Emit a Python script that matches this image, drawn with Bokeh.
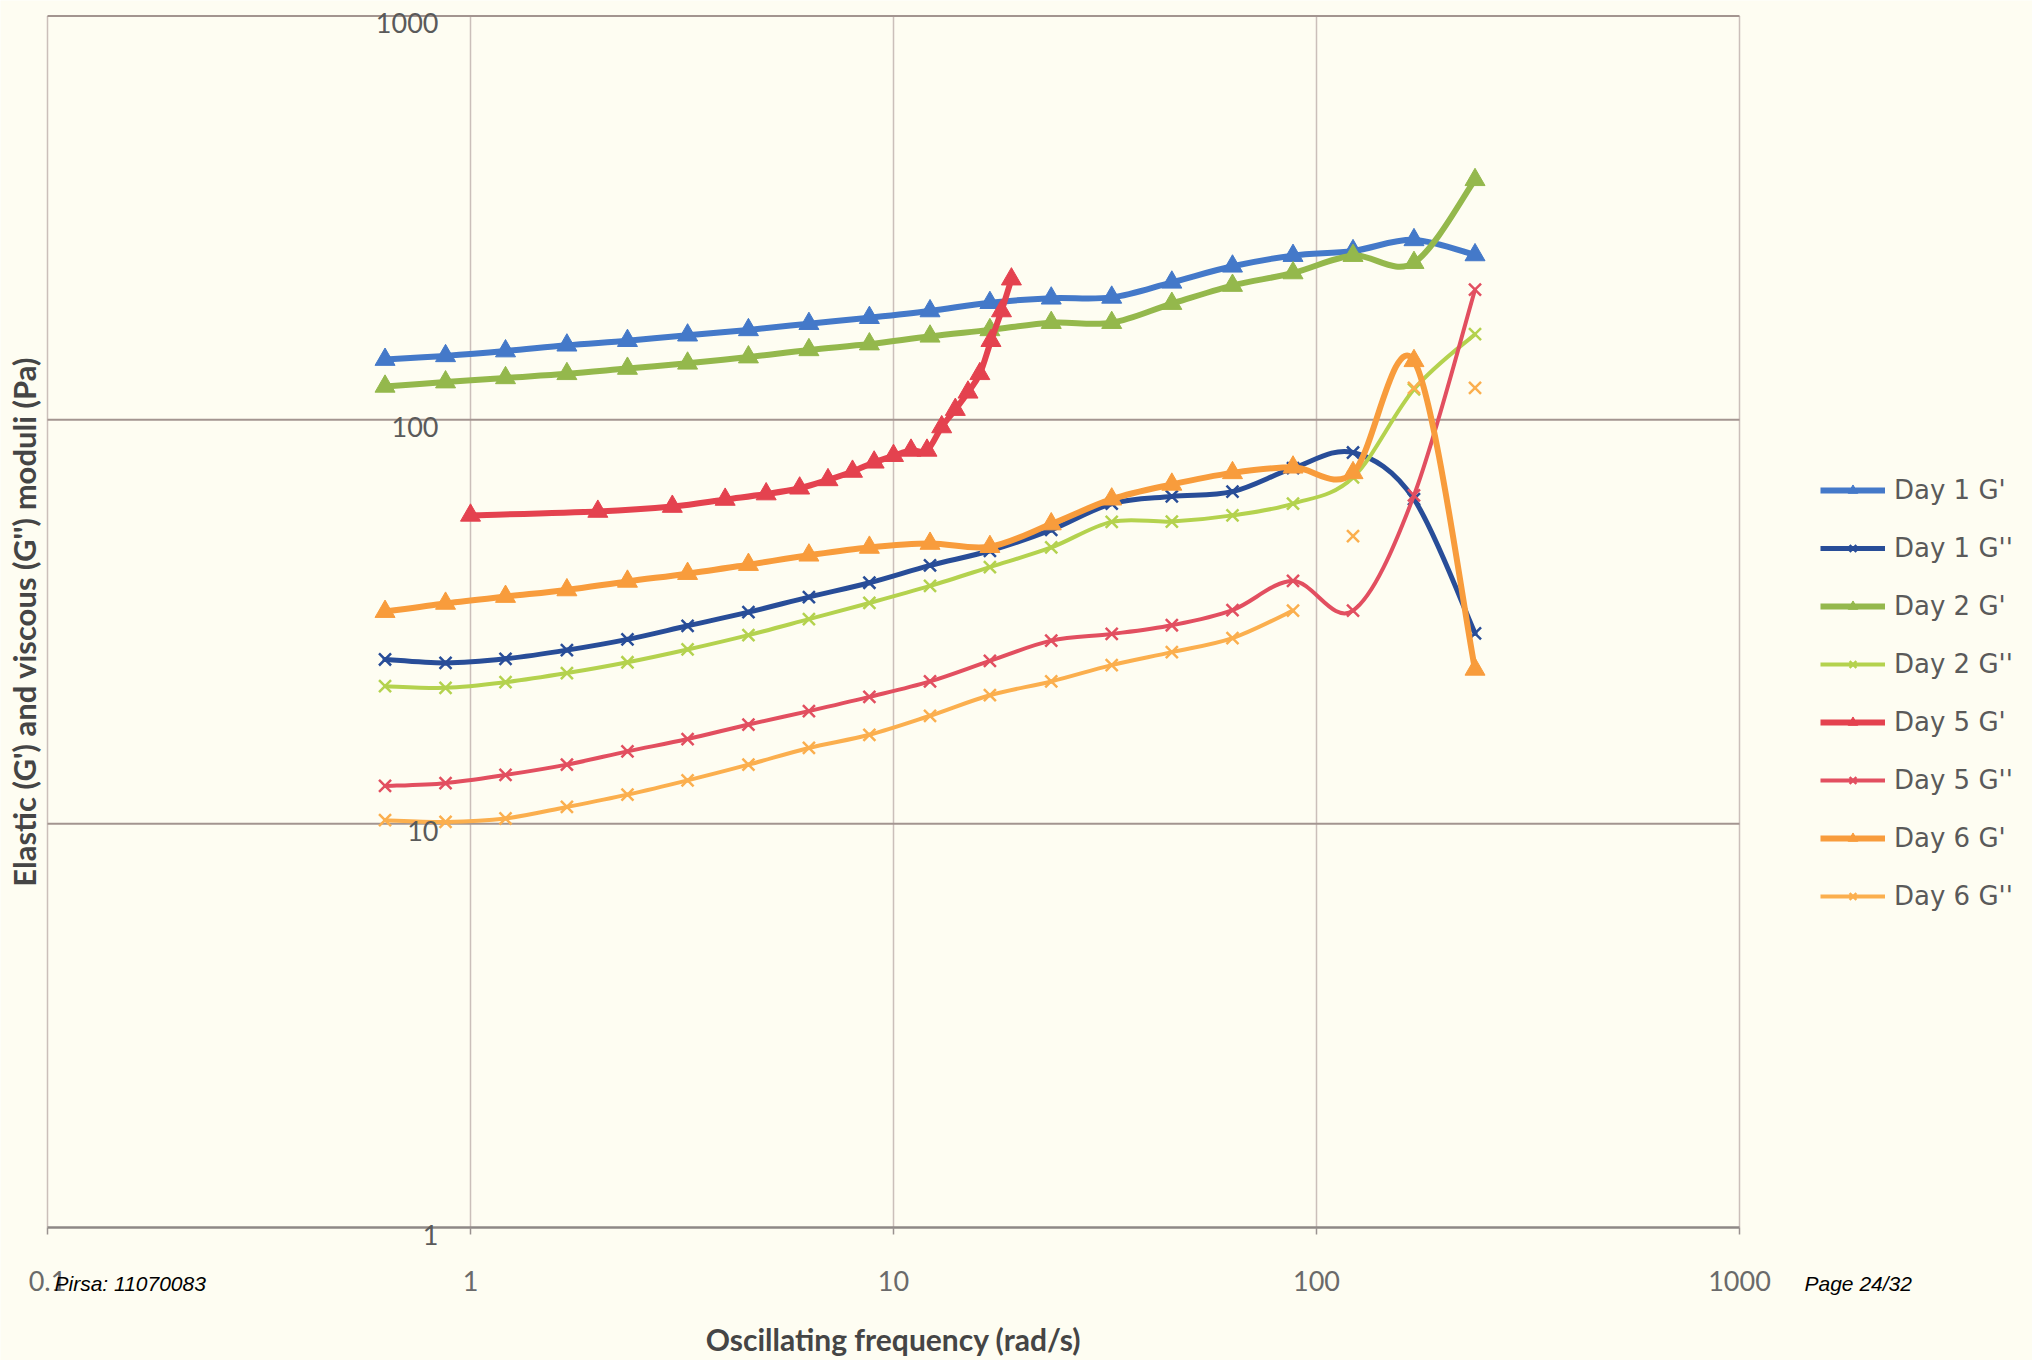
import numpy as np
from bokeh.plotting import figure
from bokeh.models import ColumnDataSource, Legend, LegendItem, Label, Range1d
from bokeh.embed import file_html
from bokeh.resources import INLINE

# ---------------------------------------------------------------- data
# angular frequency sweep (rad/s) shared by days 1, 2 and 6
freq = [0.628, 0.873, 1.21, 1.69, 2.35, 3.26, 4.54, 6.31, 8.77, 12.2,
        16.9, 23.6, 32.8, 45.5, 63.3, 88.0, 122, 170, 237]

# day 5 storage modulus was measured on a linear sweep 1..19 rad/s
freq_day5_gp = [1, 2, 3, 4, 5, 6, 7, 8, 9, 10, 11, 12, 13, 14, 15, 16, 17, 18, 19]

day1_gp = [141, 144, 148, 153, 157, 162, 167, 173, 179, 186, 195, 200, 201,
           219, 240, 255, 262, 279, 256]
day1_gpp = [25.5, 25.0, 25.6, 26.9, 28.6, 30.9, 33.4, 36.4, 39.5, 43.6, 47.4,
            53.4, 62.0, 64.6, 66.4, 75.9, 83.0, 63.6, 29.6]
day2_gp = [121, 124, 127, 130, 134, 138, 143, 149, 154, 161, 167, 174, 174,
           194, 215, 231, 255, 245, 393]
day2_gpp = [21.9, 21.7, 22.4, 23.6, 25.1, 27.0, 29.3, 32.1, 35.2, 38.8, 43.2,
            48.3, 55.9, 56.0, 58.0, 62.0, 72.0, 119, 163]
day5_gp = [58.0, 59.3, 61.0, 63.5, 65.5, 67.7, 71.0, 74.5, 78.5, 81.5, 84.0,
           84.0, 96.0, 106, 117, 130, 157, 186, 223]
day5_gpp = [12.4, 12.6, 13.2, 14.0, 15.1, 16.2, 17.6, 19.0, 20.6, 22.5, 25.3,
            28.4, 29.5, 31.0, 33.8, 39.9, 33.7, 65.0, 210]
day6_gp = [33.5, 35.1, 36.5, 37.9, 39.8, 41.6, 43.8, 46.2, 48.3, 49.4, 48.5,
           55.2, 63.6, 69.2, 73.9, 76.3, 73.9, 140, 24.1]
day6_gpp = [10.2, 10.1, 10.3, 11.0, 11.8, 12.8, 14.0, 15.4, 16.6, 18.5, 20.8,
            22.5, 24.7, 26.6, 28.8, 33.7, 51.5, 120, 120]
# the day 6 G'' curve is only joined up to this many points; the rest are bare markers
day6_gpp_joined = 16

x_ticks = [0.1, 1, 10, 100, 1000]
x_tick_labels = ["0.1", "1", "10", "100", "1000"]
y_ticks = [1, 10, 100, 1000]
y_tick_labels = ["1", "10", "100", "1000"]

x_title = "Oscillating frequency (rad/s)"
y_title = "Elastic (G') and viscous (G'') moduli (Pa)"

X_LO, X_HI = 0.1, 1000
Y_LO, Y_HI = 1, 1000

# ---------------------------------------------------------------- page geometry
W, H = 2032, 1360
AREA_L, AREA_R, AREA_T, AREA_B = 47, 1739, 15.5, 1227   # plot area in pixels
px_dec_x = (AREA_R - AREA_L) / np.log10(X_HI / X_LO)
px_dec_y = (AREA_B - AREA_T) / np.log10(Y_HI / Y_LO)
# the drawing frame covers the whole page so that titles, legend and notes
# around the plot area can be placed with the same log scales
view_x = (X_LO * 10 ** (-AREA_L / px_dec_x), X_HI * 10 ** ((W - AREA_R) / px_dec_x))
view_y = (Y_LO * 10 ** (-(H - AREA_B) / px_dec_y), Y_HI * 10 ** (AREA_T / px_dec_y))

# ---------------------------------------------------------------- style
BG = "#FEFDF2"
series = [
    # label, x, y, colour, marker, line width, joined count
    ("Day 1 G'", freq, day1_gp, "#4479C9", "triangle", 6.0, None),
    ("Day 1 G''", freq, day1_gpp, "#284D98", "x", 5.0, None),
    ("Day 2 G'", freq, day2_gp, "#94B84C", "triangle", 6.0, None),
    ("Day 2 G''", freq, day2_gpp, "#B4D24E", "x", 4.0, None),
    ("Day 5 G'", freq_day5_gp, day5_gp, "#E4424F", "triangle", 6.0, None),
    ("Day 5 G''", freq, day5_gpp, "#E24F60", "x", 4.0, None),
    ("Day 6 G'", freq, day6_gp, "#F89C3C", "triangle", 6.0, None),
    ("Day 6 G''", freq, day6_gpp, "#FBAF4E", "x", 4.0, day6_gpp_joined),
]


def smooth_segments(xs, ys):
    """Cubic Bezier pieces of a smoothed curve, built in log-log space."""
    u = np.log10(np.asarray(xs, dtype=float))
    v = np.log10(np.asarray(ys, dtype=float))
    n = len(u)
    out = {k: [] for k in ("x0", "y0", "x1", "y1", "cx0", "cy0", "cx1", "cy1")}
    for i in range(n - 1):
        a = i - 1 if i > 0 else i
        d = i + 2 if i + 2 < n else i + 1
        c0u = u[i] + (u[i + 1] - u[a]) / 6.0
        c0v = v[i] + (v[i + 1] - v[a]) / 6.0
        c1u = u[i + 1] - (u[d] - u[i]) / 6.0
        c1v = v[i + 1] - (v[d] - v[i]) / 6.0
        out["x0"].append(10 ** u[i]); out["y0"].append(10 ** v[i])
        out["x1"].append(10 ** u[i + 1]); out["y1"].append(10 ** v[i + 1])
        out["cx0"].append(10 ** c0u); out["cy0"].append(10 ** c0v)
        out["cx1"].append(10 ** c1u); out["cy1"].append(10 ** c1v)
    return out


p = figure(width=W, height=H, x_axis_type="log", y_axis_type="log",
           x_range=Range1d(*view_x), y_range=Range1d(*view_y),
           x_axis_location=None, y_axis_location=None,
           output_backend="svg", toolbar_location=None,
           min_border_left=0, min_border_right=0, min_border_top=0,
           min_border_bottom=0,
           background_fill_color=BG, border_fill_color=BG, outline_line_color=None)
p.grid.visible = False

# ---------------------------------------------------------------- axes & grid
# vertical grid lines at the frequency decades
p.segment(x0=x_ticks, x1=x_ticks, y0=[Y_LO] * len(x_ticks), y1=[Y_HI] * len(x_ticks),
          line_color="#CBBFBA", line_width=1.5)
# horizontal grid lines at the modulus decades (the lowest one is the axis line)
p.segment(x0=[X_LO] * (len(y_ticks) - 1), x1=[X_HI] * (len(y_ticks) - 1),
          y0=y_ticks[1:], y1=y_ticks[1:], line_color="#A39590", line_width=2)
p.segment(x0=[X_LO], x1=[X_HI], y0=[Y_LO], y1=[Y_LO],
          line_color="#8E8886", line_width=2.5)
# short tick marks below the frequency axis
tick_len = 7
p.segment(x0=x_ticks, x1=x_ticks, y0=[Y_LO] * len(x_ticks),
          y1=[Y_LO * 10 ** (-tick_len / px_dec_y)] * len(x_ticks),
          line_color="#9A9290", line_width=1.5)

for v, t in zip(x_ticks, x_tick_labels):
    p.add_layout(Label(x=v, y=Y_LO, y_offset=-53, text=t,
                       text_align="center", text_baseline="middle",
                       text_font="Lato", text_font_size="27px",
                       text_color="#6A6A6A"))

# value labels of the modulus axis sit just left of the 1 rad/s line
for v, t in zip(y_ticks, y_tick_labels):
    p.add_layout(Label(x=1, y=v, x_offset=-32, y_offset=-7, text=t,
                       text_align="right", text_baseline="middle",
                       text_font="Lato", text_font_size="27px",
                       text_color="#5A5A5A"))

p.add_layout(Label(x=X_LO, y=(Y_LO * Y_HI) ** 0.5, x_offset=-24, text=y_title,
                   angle=np.pi / 2, text_align="center", text_baseline="middle",
                   text_font="Lato", text_font_style="bold", text_font_size="31px",
                   text_color="#454545"))

p.add_layout(Label(x=(X_LO * X_HI) ** 0.5, y=Y_LO, y_offset=-111, text=x_title,
                   text_align="center", text_baseline="middle",
                   text_font="Lato", text_font_style="bold", text_font_size="30px",
                   text_color="#454545"))

# ---------------------------------------------------------------- series
items = []
for label, xs, ys, color, marker, lw, joined in series:
    n_join = len(xs) if joined is None else joined
    seg = smooth_segments(xs[:n_join], ys[:n_join])
    p.bezier(x0="x0", y0="y0", x1="x1", y1="y1", cx0="cx0", cy0="cy0",
             cx1="cx1", cy1="cy1", source=ColumnDataSource(seg),
             line_color=color, line_width=lw, line_cap="round")
    src = ColumnDataSource(dict(x=xs, y=ys))
    if marker == "triangle":
        mk = p.scatter("x", "y", source=src, marker="triangle", size=20,
                       fill_color=color, line_color=color, line_width=1)
    else:
        mk = p.scatter("x", "y", source=src, marker="x", size=17,
                       line_color=color, line_width=2.5)
    # line sample for the legend entry (draws nothing on the plot itself)
    proxy = p.line(x=[np.nan], y=[np.nan], line_color=color, line_width=lw)
    items.append(LegendItem(label=label, renderers=[proxy, mk]))

legend = Legend(items=items, location=(1820, 449), orientation="vertical",
                glyph_width=65, glyph_height=24, label_height=24, spacing=28,
                label_standoff=9, padding=10, margin=0,
                border_line_color=None, background_fill_alpha=0,
                label_text_font="DejaVu Sans", label_text_font_size="26px",
                label_text_color="#5A5A5A")
p.add_layout(legend)

# ---------------------------------------------------------------- footer
p.add_layout(Label(x=X_LO, y=Y_LO, x_offset=7, y_offset=-56, text="Pirsa: 11070083",
                   text_align="left", text_baseline="middle",
                   text_font="Liberation Sans", text_font_style="italic",
                   text_font_size="21px", text_color="#000000"))
p.add_layout(Label(x=X_HI, y=Y_LO, x_offset=65, y_offset=-56, text="Page 24/32",
                   text_align="left", text_baseline="middle",
                   text_font="Liberation Sans", text_font_style="italic",
                   text_font_size="21px", text_color="#000000"))

open("out.html", "w").write(file_html(p, INLINE))
